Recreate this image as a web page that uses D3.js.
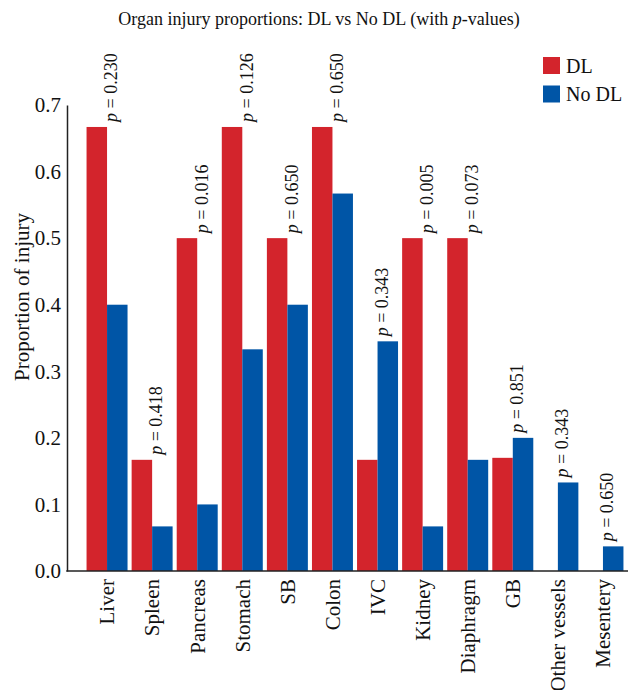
<!DOCTYPE html>
<html>
<head>
<meta charset="utf-8">
<script src="https://cdn.jsdelivr.net/npm/d3@7"></script>
<style>
  body { margin: 0; background: #fff; }
  text { font-family: "Liberation Serif", "Times New Roman", serif; fill: #111; }
</style>
</head>
<body>
<div id="chart"></div>
<script>
const categories = ['Liver', 'Spleen', 'Pancreas', 'Stomach', 'SB', 'Colon', 'IVC', 'Kidney', 'Diaphragm', 'GB', 'Other vessels', 'Mesentery'];
const dlValues = [0.667, 0.167, 0.5, 0.667, 0.5, 0.667, 0.167, 0.5, 0.5, 0.17, 0, 0];
const noDlValues = [0.4, 0.067, 0.1, 0.333, 0.4, 0.567, 0.345, 0.067, 0.167, 0.2, 0.133, 0.037];
const pValues = ['0.230', '0.418', '0.016', '0.126', '0.650', '0.650', '0.343', '0.005', '0.073', '0.851', '0.343', '0.650'];
const seriesNames = ['DL', 'No DL'];
const yTicks = [0, 0.1, 0.2, 0.3, 0.4, 0.5, 0.6, 0.7];

const width = 638, height = 690;
const colors = { 'DL': '#d3242c', 'No DL': '#0055a6' };

const svg = d3.select('#chart').append('svg')
    .attr('width', width)
    .attr('height', height);

const x = d3.scaleBand()
    .domain(categories)
    .range([84.5, 625.5])
    .padding(0);

const xSub = d3.scaleBand()
    .domain(seriesNames)
    .range([0, x.bandwidth()])
    .paddingOuter(0.1)
    .paddingInner(0);

const y = d3.scaleLinear()
    .domain([0, 0.7])
    .range([571, 105]);

// title
svg.append('text')
    .attr('x', 319)
    .attr('y', 25)
    .attr('text-anchor', 'middle')
    .attr('font-size', 18)
    .call(t => {
        t.append('tspan').text('Organ injury proportions: DL vs No DL (with ');
        t.append('tspan').attr('font-style', 'italic').text('p');
        t.append('tspan').text('-values)');
    });

// bars
const rows = categories.map((c, i) => ({ cat: c, 'DL': dlValues[i], 'No DL': noDlValues[i], p: pValues[i] }));

const groups = svg.append('g').selectAll('g')
    .data(rows)
    .join('g')
    .attr('transform', d => `translate(${x(d.cat)},0)`);

groups.selectAll('rect')
    .data(d => seriesNames.map(s => ({ key: s, value: d[s] })))
    .join('rect')
    .attr('x', d => xSub(d.key))
    .attr('width', xSub.bandwidth())
    .attr('y', d => y(d.value))
    .attr('height', d => y(0) - y(d.value))
    .attr('fill', d => colors[d.key]);

// p-value labels
groups.append('text')
    .attr('transform', d => `translate(${x.bandwidth() / 2 + 4},${y(Math.max(d['DL'], d['No DL'])) - 5}) rotate(-90)`)
    .attr('dy', '0.35em')
    .attr('font-size', 18)
    .call(t => {
        t.append('tspan').attr('font-style', 'italic').text('p');
        t.append('tspan').text(d => ' = ' + d.p);
    });

// y axis
const yAxis = svg.append('g')
    .attr('transform', 'translate(67,0)')
    .call(d3.axisLeft(y).tickValues(yTicks).tickSize(0).tickPadding(6).tickFormat(d3.format('.1f')));
yAxis.select('.domain').attr('stroke', '#222').attr('stroke-width', 1.5);
yAxis.selectAll('text').attr('font-size', 21).attr('font-family', '"Liberation Serif", serif').attr('fill', '#111');

// x axis
svg.append('line')
    .attr('x1', 66.25).attr('x2', 628)
    .attr('y1', y(0)).attr('y2', y(0))
    .attr('stroke', '#222').attr('stroke-width', 1.5);

svg.append('g').selectAll('text')
    .data(categories)
    .join('text')
    .attr('transform', d => `translate(${x(d) + x.bandwidth() / 2},${y(0) + 8}) rotate(-90)`)
    .attr('text-anchor', 'end')
    .attr('dy', '0.35em')
    .attr('font-size', 21)
    .text(d => d);

// y label
svg.append('text')
    .attr('transform', 'translate(22,297) rotate(-90)')
    .attr('text-anchor', 'middle')
    .attr('dy', '0.35em')
    .attr('font-size', 21)
    .text('Proportion of injury');

// legend
const legend = svg.append('g').selectAll('g')
    .data(seriesNames)
    .join('g')
    .attr('transform', (d, i) => `translate(543,${57 + i * 28.5})`);
legend.append('rect')
    .attr('width', 17).attr('height', 17)
    .attr('fill', d => colors[d]);
legend.append('text')
    .attr('x', 23).attr('y', 8.5)
    .attr('dy', '0.35em')
    .attr('font-size', 20)
    .text(d => d);
</script>
</body>
</html>
